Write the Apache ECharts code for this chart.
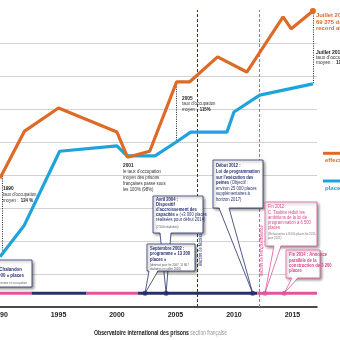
<!DOCTYPE html>
<html><head><meta charset="utf-8">
<script src="https://cdn.jsdelivr.net/npm/echarts@6/dist/echarts.min.js"></script>
<style>html,body{margin:0;padding:0;background:#fff}#c{width:340px;height:340px}</style>
</head><body><div id="c"></div>
<script>
// ---- data ----
const detenusYears = [1990, 1992.1, 1995.0, 2000.0, 2000.9, 2002.8, 2005.1, 2006.2, 2008.6, 2011.1, 2014.2, 2014.9, 2016.75];
const detenus      = [44500, 51650, 55150, 51500, 47700, 48600, 59100, 59100, 62900, 60600, 68950, 67150, 69850];
const placesYears  = [1990, 1992.05, 1995.1, 2000.0, 2000.85, 2003.25, 2005.2, 2006.3, 2009.4, 2010.0, 2012.2, 2016.75];
const places       = [32600, 37300, 48600, 49400, 47900, 47900, 50150, 51500, 51500, 54550, 57100, 58800];
const xTicks = [1990, 1995, 2000, 2005, 2010, 2015];
const gridValues = [30000, 35000, 40000, 45000, 50000, 55000, 60000, 65000, 70750];
const periodStart = [1988, 1992.7, 1997.4, 2001.8, 2012.0];
const periodEnd   = [1992.7, 1997.4, 2001.8, 2012.0, 2017.1];
const periodSide  = ['gauche', 'droite', 'gauche', 'droite', 'gauche'];
const eventYears  = [2002.4, 2004.2, 2011.6, 2012.65, 2014.3];
const eventSide   = ['droite', 'droite', 'droite', 'gauche', 'gauche'];
const electionYears  = [2006.85, 2012.14];
const electionLabels = ['élection de Nicolas Sarkozy', 'élection de François Hollande'];
const connectorYears = [1990.2, 2005.1, 2016.75];
const connectorHigh  = [45200, 59100, 69850];
const connectorLow   = [33100, 49900, 58800];
const timelineValue = 27100;

// ---- styles ----
const ORANGE = '#dd6a26', BLUE = '#1fa3dc', NAVY = '#26306e', PINK = '#e0569b', PINKTXT = '#d9458a';
const FONT = "'Liberation Sans','Roboto',sans-serif";
const SX = 0.8;

const chart = echarts.init(document.getElementById('c'), null, {renderer: 'canvas'});
const series = [];
series.push({type: 'line', data: [], silent: true, z: 1,
  markLine: {silent: true, symbol: 'none', label: {show: false}, animation: false,
    lineStyle: {color: '#d2d2d2', width: 1, type: 'solid'},
    data: gridValues.map(v => ({yAxis: v}))}});
periodStart.forEach((s, i) => series.push({type: 'line', silent: true, symbol: 'none', z: 3,
  data: [[s, timelineValue], [periodEnd[i], timelineValue]],
  lineStyle: {width: 3, color: periodSide[i] === 'gauche' ? PINK : NAVY}}));
series.push({type: 'line', name: 'effectifs', silent: true, z: 6,
  data: detenusYears.map((y, i) => [y, detenus[i]]),
  symbol: 'circle', showSymbol: true,
  symbolSize: (v, p) => p.dataIndex === detenus.length - 1 ? 6 : 0,
  lineStyle: {width: 3.2, color: ORANGE}, itemStyle: {color: ORANGE},
  markLine: {silent: true, symbol: 'none', label: {show: false}, animation: false,
    lineStyle: {color: '#222', width: 1, type: [1, 1.3]},
    data: connectorYears.map((y, i) => [{coord: [y, connectorHigh[i]]}, {coord: [y, connectorLow[i]]}])}});
series.push({type: 'line', name: 'places', silent: true, z: 5,
  data: placesYears.map((y, i) => [y, places[i]]), symbol: 'none',
  lineStyle: {width: 3.2, color: BLUE},
  markLine: {silent: true, symbol: 'none', label: {show: false}, animation: false,
    data: electionYears.map((y, i) => ({xAxis: y, lineStyle: {color: i === 0 ? NAVY : PINK, width: 1, type: [3, 2]}}))}});
series.push({type: 'scatter', silent: true, z: 200, symbolSize: 5,
  data: eventYears.map((y, i) => ({value: [y, timelineValue], itemStyle: {color: eventSide[i] === 'gauche' ? PINK : NAVY}}))});

chart.setOption({
  animation: false,
  grid: {left: 0, right: 23, top: 10, bottom: 33, containLabel: false, outerBoundsMode: 'none'},
  xAxis: {type: 'value', min: 1990, max: 2017.1, interval: 5,
    axisLine: {show: true, lineStyle: {color: '#111', width: 1.5}}, axisTick: {show: false}, splitLine: {show: false},
    axisLabel: {formatter: v => xTicks.indexOf(v) >= 0 ? String(v) : '', color: '#222', fontWeight: 'bold',
      fontSize: 7, fontFamily: FONT, margin: 5, showMinLabel: true, showMaxLabel: false, hideOverlap: false}},
  yAxis: {type: 'value', min: 25000, max: 70000, interval: 5000,
    axisLine: {show: false}, axisTick: {show: false}, axisLabel: {show: false}, splitLine: {show: false}},
  series: series
});

// ---- annotations ----
function T(x, y, text, size, color, bold, extra) {
  const st = {text: text, fill: color, font: (bold ? 'bold ' : '') + size + 'px ' + FONT,
    textAlign: 'left', textVerticalAlign: 'middle', align: 'left', verticalAlign: 'middle'};
  if (extra && extra.style) Object.assign(st, extra.style);
  const el = {type: 'text', x: x, y: y, z: 100, silent: true, scaleX: (extra && extra.sx) || SX, style: st};
  if (extra && extra.rotation) el.rotation = extra.rotation;
  if (extra && extra.z) el.z = extra.z;
  return el;
}
function R(size, color) { return {b: {font: 'bold ' + size + 'px ' + FONT, fill: color}}; }
function box(x0, y0, x1, y1, color, z) {
  return {type: 'rect', silent: true, z: z, shape: {x: x0, y: y0, width: x1 - x0, height: y1 - y0},
    style: {fill: '#fff', stroke: color, lineWidth: 0.8, shadowBlur: 3, shadowColor: 'rgba(0,0,0,0.45)', shadowOffsetX: 1.5, shadowOffsetY: 1.5}};
}
function pointer(bx0, bx1, by, tip, color, z) {
  return [
    {type: 'polygon', silent: true, z: z, shape: {points: [[bx0, by - 1], tip, [bx1, by - 1]]}, style: {fill: '#fff'}},
    {type: 'polyline', silent: true, z: z, shape: {points: [[bx0, by], tip, [bx1, by]]}, style: {stroke: color, lineWidth: 0.8, fill: null}}
  ];
}
const tip = i => chart.convertToPixel({gridIndex: 0}, [eventYears[i], timelineValue]);
const el = [];
const S = 5.4;
// 1990
el.push(T(3, 188, '1990', 6, '#222', true));
el.push(T(3, 194.5, "taux d'occupation", S, '#333', false));
el.push(T(3, 200.5, 'moyen :  {b|124 %}', S, '#333', false, {style: {rich: R(S, '#222')}}));
// 2001
el.push(T(123, 165.5, '2001', 6, '#222', true));
['le taux d\'occupation', 'moyen des prisons', 'françaises passe sous', 'les 100% (98%)'].forEach((s, i) =>
  el.push(T(123, 172 + i * 6, s, S, '#333', false)));
// 2005
el.push(T(182, 98, '2005', 6, '#222', true));
el.push(T(182, 104, "taux d'occupation", S, '#333', false));
el.push(T(182, 110, 'moyen :  {b|115%}', S, '#333', false, {style: {rich: R(S, '#222')}}));
// Juillet 2016 orange
['Juillet 2016 :', '69 375 détenus,', 'record absolu'].forEach((s, i) => el.push(T(316, 15.5 + i * 6.5, s, 6, ORANGE, true, {sx: 0.98})));
// Juillet 2016 taux
el.push(T(316, 52, 'Juillet 2016 :', 5.6, '#222', true, {sx: 0.9}));
el.push(T(316, 57.5, "taux d'occupation", S, '#333', false, {sx: 0.9}));
el.push(T(316, 63, 'moyen :  {b|119%}', S, '#333', false, {sx: 0.9, style: {rich: R(S, '#222')}}));
// legend
el.push({type: 'rect', silent: true, z: 100, shape: {x: 323, y: 151.8, width: 20, height: 3}, style: {fill: ORANGE}});
el.push(T(325, 160.5, 'effectifs', 6, ORANGE, true, {sx: 1}));
el.push({type: 'rect', silent: true, z: 100, shape: {x: 323, y: 179.5, width: 20, height: 3}, style: {fill: BLUE}});
el.push(T(325, 188, 'places', 6, BLUE, true, {sx: 1}));
// election labels
el.push(T(200.5, 266, electionLabels[0], 4.8, NAVY, false, {rotation: Math.PI / 2, z: 60}));
el.push(T(261.5, 276, electionLabels[1], 4.8, PINKTXT, false, {rotation: Math.PI / 2, z: 60}));
// Box A: Chalandon
el.push(box(-40, 260, 32, 287, NAVY, 80));
el.push(T(22, 269.5, 'Programme Chalandon', 5.5, NAVY, true, {style: {textAlign: 'right', align: 'right'}}));
el.push(T(24, 275.5, '« 13 000 » places', 5.5, NAVY, true, {style: {textAlign: 'right', align: 'right'}}));
el.push(T(27, 282.5, '(25 nouvelles prisons en occupation', 3.6, '#666', false, {style: {textAlign: 'right', align: 'right'}}));
// Box B: Avril 2004
el.push(box(153, 196, 203, 233, NAVY, 82));
el.push(...pointer(160, 171, 233, tip(1), NAVY, 83));
['Avril 2004 :', 'Dispositif', "d'accroissement des"].forEach((s, i) => el.push(T(156, 199.5 + i * 5, s, 5.2, NAVY, true)));
el.push(T(156, 214.5, '{b|capacités »} (+3 000 places', 5.2, NAVY, false, {style: {rich: R(5.2, NAVY)}}));
el.push(T(156, 219.5, 'réalisées pour début 2014)', 5.2, NAVY, false));
el.push(T(156, 226.5, '(2 500 réalisées)', 3.8, '#555', false));
// Box C: Septembre 2002
el.push(box(147, 244, 195, 271, NAVY, 84));
el.push(...pointer(149, 158, 271, tip(0), NAVY, 85));
['Septembre 2002 :', 'programme « 13 200', 'places »'].forEach((s, i) => el.push(T(150, 248.5 + i * 5.3, s, 5.2, NAVY, true)));
el.push(T(150, 264.5, '(diminué pour fin 2007, 11 807', 3.6, '#555', false, {z: 101}));
el.push(T(150, 268.5, 'réalisées en juillet 2016)', 3.6, '#555', false, {z: 101}));
// Box D: Début 2012
el.push(box(213, 160, 263, 208, NAVY, 86));
el.push(...pointer(219, 229, 208, tip(2), NAVY, 87));
['Début 2012 :', 'Loi de programmation', "sur l'exécution des"].forEach((s, i) => el.push(T(216, 166 + i * 5.6, s, 5.2, NAVY, true)));
el.push(T(216, 182.8, '{b|peines} (Objectif :', 5.2, NAVY, false, {style: {rich: R(5.2, NAVY)}}));
['environ 25 000 places', 'supplémentaires à', 'horizon 2017)'].forEach((s, i) => el.push(T(216, 188.4 + i * 5.6, s, 5.2, NAVY, false)));
// Box E: Fin 2012
el.push(box(265, 202, 317, 246, PINK, 88));
el.push(...pointer(274, 281, 246, tip(3), PINK, 89));
['Fin 2012 :', 'C. Taubira réduit les', 'ambitions de la loi de', 'programmation à 6 500', 'places'].forEach((s, i) =>
  el.push(T(268, 207 + i * 5.2, s, 5.2, PINKTXT, false)));
el.push(T(268, 234, '(Rehaussées à 8 000 places fin 2015,', 3.6, '#777', false));
el.push(T(268, 238, 'puis 2025)', 3.6, '#777', false));
// Box F: Fin 2014
el.push(box(286, 250, 320, 278, PINK, 90));
el.push(...pointer(292, 298, 278, tip(4), PINK, 91));
['Fin 2014 : Annonce', 'parallèle de la', 'construction de 3 200', 'places'].forEach((s, i) =>
  el.push(T(289, 255 + i * 5.2, s, 5.2, PINKTXT, true)));
// source line
el.push(T(94, 333, '{b|Observatoire international des prisons} section française', 6.6, '#999', false,
  {sx: 0.74, style: {rich: {b: {font: 'bold 7px ' + FONT, fill: '#1a1a1a'}}}}));

chart.setOption({graphic: {elements: el}});
</script>
</body></html>
